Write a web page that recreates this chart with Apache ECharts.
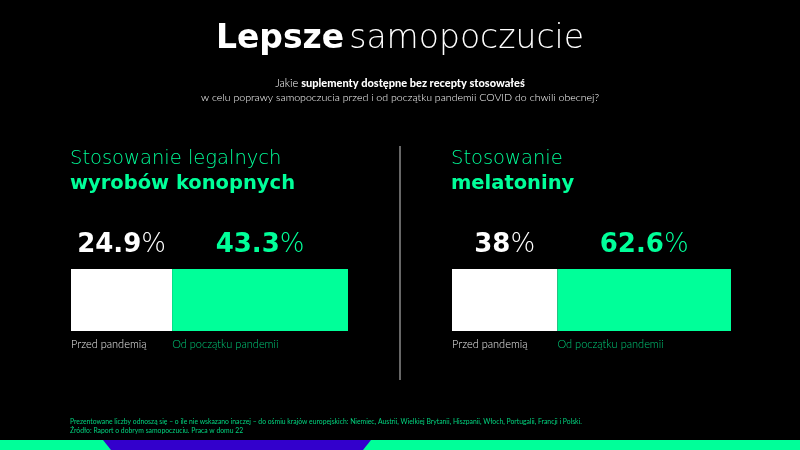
<!DOCTYPE html>
<html>
<head>
<meta charset="utf-8">
<script src="https://cdn.jsdelivr.net/npm/echarts@6/dist/echarts.min.js"></script>
<style>html,body{margin:0;padding:0;background:#000;}#c{width:800px;height:450px;}</style>
</head>
<body>
<div id="c"></div>
<script>
const panelTitlesLight = ['Stosowanie legalnych', 'Stosowanie'];
const panelTitlesBold = ['wyrobów konopnych', 'melatoniny'];
const periods = ['Przed pandemią', 'Od początku pandemii'];
const beforeValues = [24.9, 38];
const sinceValues = [43.3, 62.6];

const GREEN = '#00ff99';
const FONT = 'Lato, "Open Sans", sans-serif';
const WIDE = '"DejaVu Sans", sans-serif';

const chart = echarts.init(document.getElementById('c'));

const grids = [
  {left: 71, top: 269, width: 277, height: 62},
  {left: 452, top: 269, width: 279, height: 62}
];

const xAxes = [], yAxes = [], series = [];
grids.forEach((g, i) => {
  const total = beforeValues[i] + sinceValues[i];
  xAxes.push({gridIndex: i, type: 'value', min: 0, max: total, show: false});
  yAxes.push({gridIndex: i, type: 'category', data: ['x'], show: false});
  const numLabel = (color) => ({
    show: true, position: 'top', distance: 11,
    formatter: p => '{b|' + p.value + '}{l|%}',
    rich: {
      b: {fontFamily: WIDE, fontWeight: 'bold', fontSize: 26, color: color},
      l: {fontFamily: WIDE, fontWeight: 200, fontSize: 26, color: color}
    }
  });
  const capLabel = (color, text) => ({
    show: true, position: [0, '100%'], offset: [0, 8],
    align: 'left', verticalAlign: 'top',
    formatter: text, fontFamily: FONT, fontSize: 11, fontWeight: 300, color: color
  });
  series.push({
    type: 'bar', xAxisIndex: i, yAxisIndex: i, stack: 'v' + i,
    barWidth: '100%', barGap: '-100%', data: [beforeValues[i]],
    itemStyle: {color: '#ffffff'}, label: numLabel('#ffffff'), silent: true
  });
  series.push({
    type: 'bar', xAxisIndex: i, yAxisIndex: i, stack: 'v' + i,
    barWidth: '100%', barGap: '-100%', data: [sinceValues[i]],
    itemStyle: {color: GREEN}, label: numLabel(GREEN), silent: true
  });
  series.push({
    type: 'bar', xAxisIndex: i, yAxisIndex: i, stack: 'c' + i,
    barWidth: '100%', barGap: '-100%', data: [beforeValues[i]],
    itemStyle: {color: 'rgba(0,0,0,0)'}, label: capLabel('#e8e8e8', periods[0]), silent: true
  });
  series.push({
    type: 'bar', xAxisIndex: i, yAxisIndex: i, stack: 'c' + i,
    barWidth: '100%', barGap: '-100%', data: [sinceValues[i]],
    itemStyle: {color: 'rgba(0,0,0,0)'}, label: capLabel('#00c977', periods[1]), silent: true
  });
});

const titles = [
  {
    text: '{b|Lepsze} {l|samopoczucie}', left: 'center', top: 23, padding: 0,
    textStyle: {rich: {
      b: {fontFamily: WIDE, fontWeight: 'bold', fontSize: 33, color: '#fff'},
      l: {fontFamily: WIDE, fontWeight: 200, fontSize: 33, color: '#fff'}
    }}
  },
  {
    text: '{l|Jakie }{b|suplementy dostępne bez recepty stosowałeś}',
    left: 'center', top: 78, padding: 0,
    textStyle: {rich: {
      b: {fontFamily: FONT, fontWeight: 900, fontSize: 11, color: '#fff'},
      l: {fontFamily: FONT, fontWeight: 300, fontSize: 11, color: '#fff'}
    }}
  },
  {
    text: 'w celu poprawy samopoczucia przed i od początku pandemii COVID do chwili obecnej?',
    left: 'center', top: 92, padding: 0,
    textStyle: {fontFamily: FONT, fontWeight: 300, fontSize: 10.6, color: '#fff'}
  }
];
[70, 451].forEach((x, i) => {
  titles.push({
    text: '{l|' + panelTitlesLight[i] + '}\n{b|' + panelTitlesBold[i] + '}',
    left: x, top: 146, padding: 0,
    textStyle: {rich: {
      l: {fontFamily: WIDE, fontWeight: 200, fontSize: 19.5, color: GREEN, lineHeight: 25},
      b: {fontFamily: WIDE, fontWeight: 'bold', fontSize: 19.5, color: GREEN, lineHeight: 25}
    }}
  });
});
titles.push({
  text: 'Prezentowane liczby odnoszą się – o ile nie wskazano inaczej – do ośmiu krajów europejskich: Niemiec, Austrii, Wielkiej Brytanii, Hiszpanii, Włoch, Portugalii, Francji i Polski.\nŹródło: Raport o dobrym samopoczuciu. Praca w domu 22',
  left: 70, top: 417, padding: 0,
  textStyle: {fontFamily: FONT, fontSize: 6.8, fontWeight: 400, color: '#00d47f', lineHeight: 9}
});

chart.setOption({
  backgroundColor: '#000',
  animation: false,
  title: titles,
  grid: grids.map(g => Object.assign({containLabel: false}, g)),
  xAxis: xAxes,
  yAxis: yAxes,
  series: series,
  graphic: [
    {type: 'line', shape: {x1: 400, y1: 146, x2: 400, y2: 380}, style: {stroke: '#8a8a8a', lineWidth: 1.5}},
    {type: 'rect', shape: {x: 0, y: 440, width: 800, height: 10}, style: {fill: GREEN}},
    {type: 'polygon', shape: {points: [[103, 440], [371, 440], [363, 450], [111, 450]]}, style: {fill: '#3300cc'}}
  ]
});
</script>
</body>
</html>
